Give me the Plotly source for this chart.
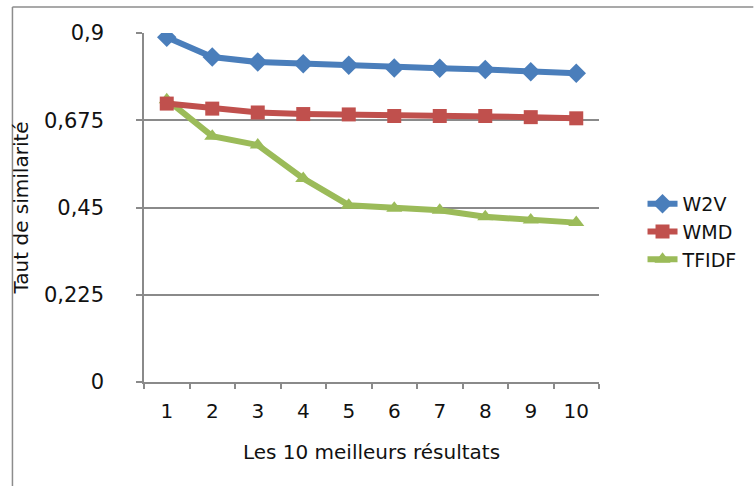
import plotly.graph_objects as go

categories = ["1", "2", "3", "4", "5", "6", "7", "8", "9", "10"]
w2v = [0.889, 0.838, 0.825, 0.821, 0.817, 0.810, 0.809, 0.806, 0.800, 0.796]
wmd = [0.718, 0.705, 0.695, 0.691, 0.690, 0.686, 0.686, 0.686, 0.683, 0.680]
tfidf = [0.728, 0.634, 0.611, 0.525, 0.456, 0.448, 0.443, 0.426, 0.418, 0.411]
y_ticks = [0, 0.225, 0.45, 0.675, 0.9]
y_tick_labels = ["0", "0,225", "0,45", "0,675", "0,9"]

FONT = "DejaVu Sans"
GRID = "#8a8a8a"

fig = go.Figure()
fig.add_trace(go.Scatter(x=categories, y=w2v, name="W2V", mode="lines+markers",
                         line=dict(color="#4A7EBB", width=6),
                         marker=dict(symbol="diamond", size=15, color="#4A7EBB"),
                         legendrank=1))
fig.add_trace(go.Scatter(x=categories, y=tfidf, name="TFIDF", mode="lines+markers",
                         line=dict(color="#9BBB59", width=6),
                         marker=dict(symbol="triangle-up", size=14, color="#9BBB59"),
                         legendrank=3))
fig.add_trace(go.Scatter(x=categories, y=wmd, name="WMD", mode="lines+markers",
                         line=dict(color="#C0504D", width=6),
                         marker=dict(symbol="square", size=14, color="#C0504D"),
                         legendrank=2))

L, R, T, B = 144, 151, 33, 104
W, H = 755, 486
pw, ph = W - L - R, H - T - B

def px_x(p):
    return (p - L) / pw

def px_y(p):
    return (H - B - p) / ph

fig.update_layout(
    width=W, height=H,
    margin=dict(l=L, r=R, t=T, b=B, pad=0),
    paper_bgcolor="white", plot_bgcolor="white",
    font=dict(family=FONT, size=20, color="#111111"),
    showlegend=True,
    legend=dict(x=px_x(648), y=px_y(232), xanchor="left", yanchor="middle",
                font=dict(size=19), tracegroupgap=0, itemsizing="trace", itemwidth=30,
                bgcolor="rgba(0,0,0,0)"),
    xaxis=dict(type="category", range=[-0.5, 9.5], tickson="boundaries", ticks="outside", ticklen=5,
               tickcolor=GRID, tickwidth=1.5, showline=True, linecolor=GRID, linewidth=1.5,
               showgrid=False, tickfont=dict(size=20), ticklabelstandoff=10,
               title=dict(text="Les 10 meilleurs résultats", font=dict(size=20), standoff=23)),
    yaxis=dict(range=[0, 0.9], tickvals=y_ticks, ticktext=y_tick_labels,
               ticks="outside", ticklen=6, tickcolor=GRID, tickwidth=1.5,
               showline=True, linecolor=GRID, linewidth=1.5,
               showgrid=True, gridcolor=GRID, gridwidth=1.5, zeroline=False,
               tickfont=dict(size=21), ticklabelstandoff=28,
               title=dict(text="Taut de similarité", font=dict(size=20), standoff=10)),
)

# chart-area border (left and top edges)
fig.add_shape(type="line", xref="paper", yref="paper",
              x0=px_x(11), x1=px_x(11), y0=px_y(7), y1=px_y(490),
              line=dict(color="#8c8c8c", width=1.5))
fig.add_shape(type="line", xref="paper", yref="paper",
              x0=px_x(11), x1=px_x(760), y0=px_y(7), y1=px_y(7),
              line=dict(color="#8c8c8c", width=1.5))

fig.write_html("out.html")
